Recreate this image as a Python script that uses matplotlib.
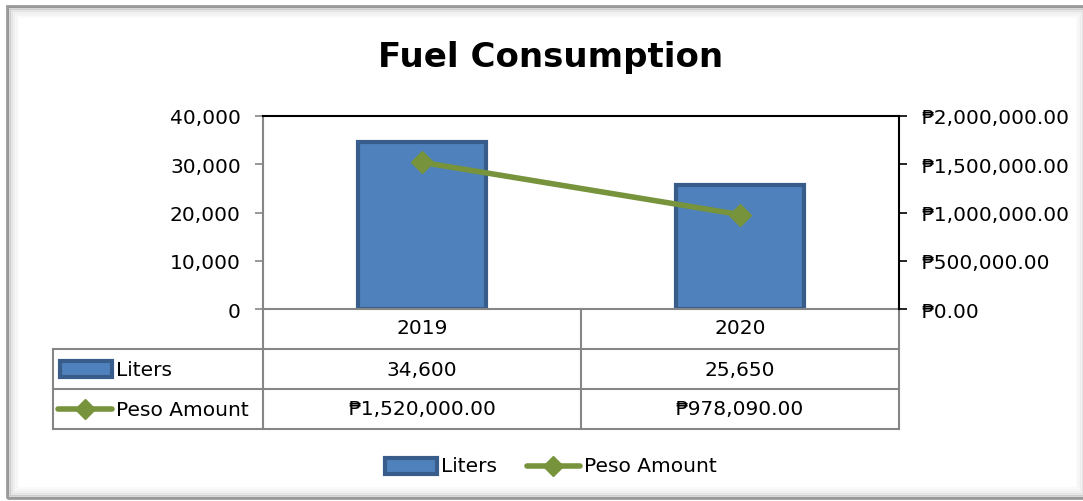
import matplotlib
matplotlib.use("Agg")
import matplotlib.pyplot as plt
from matplotlib.patches import Rectangle
from matplotlib.lines import Line2D
from matplotlib.ticker import FuncFormatter, MultipleLocator

plt.rcParams['font.family'] = ['DejaVu Sans']

categories = ["2019", "2020"]
liters = [34600, 25650]
peso = [1520000.00, 978090.00]
series_names = ["Liters", "Peso Amount"]
title = "Fuel Consumption"

BAR_FACE = "#4F81BD"
BAR_EDGE = "#385D8A"
LINE_C = "#77933C"
GRID_C = "#868686"

W, H = 1083, 502
fig = plt.figure(figsize=(W / 100, H / 100), dpi=100)

def fx(px):
    return px / W

def fy(py):
    return 1 - py / H

# outer frame with inner shadow
for i, a in enumerate([0.65, 0.25, 0.14, 0.08, 0.05, 0.03]):
    fig.add_artist(Rectangle((fx(7 + i * 2), fy(499 - i * 2)), fx(1080 - i * 4), (492 - i * 4) / H,
                             transform=fig.transFigure, fill=False,
                             edgecolor=(0.4, 0.4, 0.4, a), linewidth=2))

ax = fig.add_axes([fx(263), fy(310), fx(899 - 263), (310 - 117) / H])
ax2 = ax.twinx()

x = list(range(len(categories)))
ax.bar(x, liters, width=0.405, color=BAR_FACE, edgecolor=BAR_EDGE, linewidth=3, zorder=2)
ax2.plot(x, peso, color=LINE_C, linewidth=4, marker="D", markersize=11,
         markerfacecolor=LINE_C, markeredgecolor=LINE_C, zorder=3)

ax.set_xlim(-0.5, len(categories) - 0.5)
ax.set_ylim(0, 40000)
ax2.set_ylim(0, 2000000)
ax.yaxis.set_major_locator(MultipleLocator(10000))
ax2.yaxis.set_major_locator(MultipleLocator(500000))
ax.yaxis.set_major_formatter(FuncFormatter(lambda v, p: f"{v:,.0f}"))
ax2.yaxis.set_major_formatter(FuncFormatter(lambda v, p: f"\u20b1{v:,.2f}"))
ax.set_xticks([])
ax2.set_xticks([])

for a in (ax, ax2):
    a.patch.set_visible(False)
    for s in a.spines.values():
        s.set_visible(False)
ax2.spines['right'].set_visible(True)
ax2.spines['right'].set_color("black")
ax2.spines['right'].set_linewidth(1.5)
ax2.spines['top'].set_visible(True)
ax2.spines['top'].set_color("black")
ax2.spines['top'].set_linewidth(1.5)
ax.spines['left'].set_visible(True)
ax.spines['left'].set_color(GRID_C)
ax.spines['left'].set_linewidth(1.5)
ax.spines['bottom'].set_visible(True)
ax.spines['bottom'].set_color(GRID_C)
ax.spines['bottom'].set_linewidth(1.5)

fs = 14.5
ax.tick_params(axis='y', direction='out', length=6, width=1.2, color=GRID_C,
               labelsize=fs, labelcolor="black", pad=10)
ax2.tick_params(axis='y', direction='out', length=6, width=1.2, color="black",
                labelsize=fs, labelcolor="black", pad=10)

fig.text(fx(551), fy(58), title, ha="center", va="center", fontsize=24.5, fontweight="bold")

# data table
tr = ax.get_xaxis_transform()
def ay(py):
    return (310 - py) / (310 - 117)

left_x = -0.5 - (263 - 53) / 318.0
xs_b = [-0.5 + i for i in range(len(categories) + 1)]
rows_y = [ay(350), ay(390), ay(430)]
line_kw = dict(transform=tr, color=GRID_C, linewidth=1.5, clip_on=False)
for yv in rows_y:
    ax.add_line(Line2D([left_x, xs_b[-1]], [yv, yv], **line_kw))
for xb in xs_b:
    ax.add_line(Line2D([xb, xb], [0, rows_y[-1]], **line_kw))
ax.add_line(Line2D([left_x, left_x], [rows_y[0], rows_y[-1]], **line_kw))

for i, c in enumerate(categories):
    ax.text(i, ay(328), c, transform=tr, ha="center", va="center", fontsize=fs, clip_on=False)
    ax.text(i, ay(370), f"{liters[i]:,.0f}", transform=tr, ha="center", va="center", fontsize=fs, clip_on=False)
    ax.text(i, ay(410), f"\u20b1{peso[i]:,.2f}", transform=tr, ha="center", va="center", fontsize=fs, clip_on=False)

# table legend keys (figure coords)
fig.add_artist(Rectangle((fx(60), fy(378)), fx(52), 16 / H, transform=fig.transFigure,
                         facecolor=BAR_FACE, edgecolor=BAR_EDGE, linewidth=3))
fig.text(fx(116), fy(370), series_names[0], ha="left", va="center", fontsize=fs)
fig.add_artist(Line2D([fx(58), fx(112)], [fy(410), fy(410)], transform=fig.transFigure,
                      color=LINE_C, linewidth=4, solid_capstyle="round"))
fig.add_artist(Line2D([fx(85)], [fy(410)], transform=fig.transFigure, color=LINE_C,
                      marker="D", markersize=10, linestyle="none"))
fig.text(fx(116), fy(410), series_names[1], ha="left", va="center", fontsize=fs)

# bottom legend
fig.add_artist(Rectangle((fx(385), fy(475)), fx(52), 16 / H, transform=fig.transFigure,
                         facecolor=BAR_FACE, edgecolor=BAR_EDGE, linewidth=3))
fig.text(fx(441), fy(467), series_names[0], ha="left", va="center", fontsize=fs)
fig.add_artist(Line2D([fx(527), fx(580)], [fy(467), fy(467)], transform=fig.transFigure,
                      color=LINE_C, linewidth=4, solid_capstyle="round"))
fig.add_artist(Line2D([fx(553)], [fy(467)], transform=fig.transFigure, color=LINE_C,
                      marker="D", markersize=10, linestyle="none"))
fig.text(fx(584), fy(467), series_names[1], ha="left", va="center", fontsize=fs)

fig.savefig("out.png", dpi=100, facecolor="white")
